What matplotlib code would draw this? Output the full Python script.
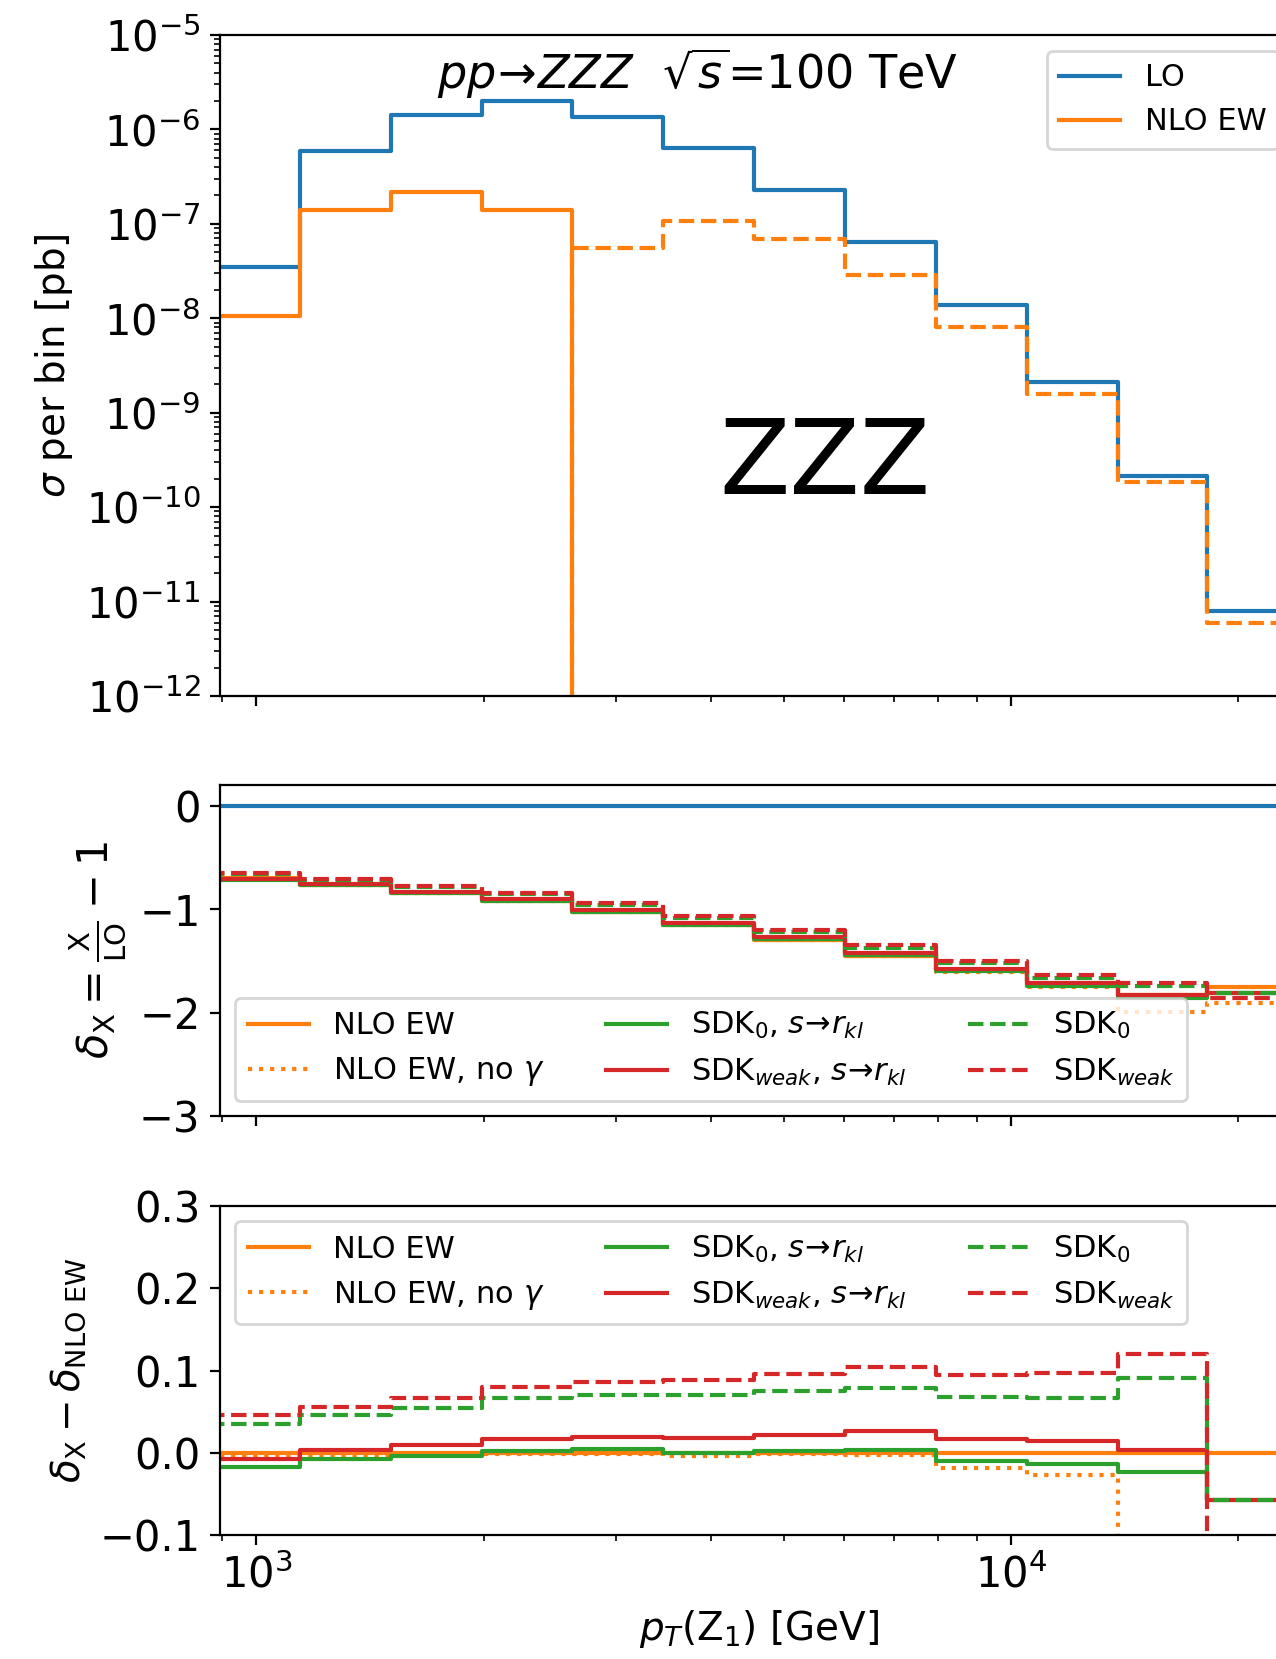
import numpy as np
import matplotlib
matplotlib.use("Agg")
import matplotlib.pyplot as plt

plt.rcParams['font.size'] = 14
plt.rcParams['xtick.labelsize'] = 15
plt.rcParams['ytick.labelsize'] = 15
plt.rcParams['mathtext.fontset'] = 'dejavusans'

# bin edges in pT(Z1) [GeV]
edges = [866, 1142, 1508, 1990, 2622, 3460, 4568, 6026, 7955, 10500, 13860, 18180, 23990]

# sigma per bin [pb]
lo = [3.5e-8, 5.9e-7, 1.43e-6, 1.98e-6, 1.37e-6, 6.4e-7, 2.27e-7, 6.35e-8,
      1.39e-8, 2.14e-9, 2.15e-10, 7.9e-12]
nlo = [1.06e-8, 1.39e-7, 2.2e-7, 1.39e-7, -5.5e-8, -1.06e-7, -6.9e-8, -2.88e-8,
       -8.1e-9, -1.58e-9, -1.83e-10, -6.0e-12]

# delta_NLO EW = NLO/LO - 1
delta_nlo = [-0.698, -0.763, -0.840, -0.921, -1.028, -1.153, -1.295, -1.450,
             -1.593, -1.730, -1.835, -1.753]

# delta_X - delta_NLO EW
diff_nogam = [-0.003, -0.003, -0.002, -0.001, -0.001, -0.004, -0.001, -0.003,
              -0.019, -0.027, -0.155, -0.152]
diff_sdk0_rkl = [-0.017, -0.008, -0.004, 0.002, 0.004, 0.000, 0.002, 0.003,
                 -0.010, -0.014, -0.023, -0.057]
diff_sdkw_rkl = [-0.008, 0.003, 0.009, 0.017, 0.019, 0.018, 0.022, 0.027,
                 0.017, 0.014, 0.003, -0.057]
diff_sdk0 = [0.035, 0.046, 0.054, 0.066, 0.070, 0.070, 0.075, 0.079,
             0.068, 0.067, 0.091, -0.057]
diff_sdkw = [0.046, 0.056, 0.066, 0.080, 0.086, 0.088, 0.096, 0.104,
             0.095, 0.097, 0.120, -0.104]


def stp(ax, vals, **kw):
    v = np.asarray(vals, dtype=float)
    return ax.step(edges, np.append(v, v[-1]), where='post', lw=1.5, **kw)


W, H = 1276, 1659
fig = plt.figure(figsize=(W / 200, H / 200), dpi=200)
left = 220 / W
width = 1078 / W
ax1 = fig.add_axes([left, 1 - 696 / H, width, 661 / H])
ax2 = fig.add_axes([left, 1 - 1116 / H, width, 331 / H], sharex=ax1)
ax3 = fig.add_axes([left, 1 - 1535 / H, width, 329 / H], sharex=ax1)

# top panel
stp(ax1, lo, color='tab:blue', label='LO')
stp(ax1, nlo, color='tab:orange', label='NLO EW')
stp(ax1, -np.asarray(nlo), color='tab:orange', ls='--')
ax1.set_xscale('log')
ax1.set_yscale('log')
ax1.set_xlim(895, 23990)
ax1.set_ylim(1e-12, 1e-5)
ax1.set_ylabel(r'$\sigma$ per bin [pb]')
ax1.text((698 - 220) / 1078, (696 - 74) / 661,
         r'$pp\!\to\! ZZZ\ \ \sqrt{s}$=100 TeV', transform=ax1.transAxes,
         ha='center', va='center', fontsize=16.6)
ax1.text((825 - 220) / 1078, (696 - 466) / 661, 'ZZZ', transform=ax1.transAxes,
         ha='center', va='center', fontsize=37)
ax1.legend(loc='upper left', bbox_to_anchor=(1047 / W, 1 - 51 / H),
           bbox_transform=fig.transFigure, borderaxespad=0, fontsize=11)
ax1.tick_params(labelbottom=False)

labels = ['NLO EW', r'NLO EW, no $\gamma$', r'SDK$_0$, $s\!\to\! r_{kl}$',
          r'SDK$_{weak}$, $s\!\to\! r_{kl}$', r'SDK$_0$', r'SDK$_{weak}$']
styles = [('tab:orange', '-'), ('tab:orange', ':'), ('tab:green', '-'),
          ('tab:red', '-'), ('tab:green', '--'), ('tab:red', '--')]
diffs = [np.zeros(len(lo)), diff_nogam, diff_sdk0_rkl, diff_sdkw_rkl, diff_sdk0, diff_sdkw]

# middle panel
stp(ax2, np.zeros(len(lo)), color='tab:blue')
for d, (c, ls), lab in zip(diffs, styles, labels):
    stp(ax2, np.asarray(delta_nlo) + np.asarray(d), color=c, ls=ls, label=lab)
ax2.set_ylim(-3, 0.2)
ax2.set_yticks([0, -1, -2, -3])
ax2.set_ylabel(r'$\delta_{\rm X} = \frac{\rm X}{\rm LO} - 1$', fontsize=15)
ax2.legend(loc='lower left', ncol=3, fontsize=11)
ax2.tick_params(labelbottom=False)

# bottom panel
for d, (c, ls), lab in zip(diffs, styles, labels):
    stp(ax3, d, color=c, ls=ls, label=lab)
ax3.set_ylim(-0.1, 0.3)
ax3.set_yticks([-0.1, 0.0, 0.1, 0.2, 0.3])
ax3.set_ylabel(r'$\delta_{\rm X} - \delta_{\rm NLO\ EW}$')
ax3.set_xlabel(r'$p_T$(Z$_1$) [GeV]')
ax3.legend(loc='upper left', ncol=3, fontsize=11)

fig.savefig('out.png', dpi=200)
